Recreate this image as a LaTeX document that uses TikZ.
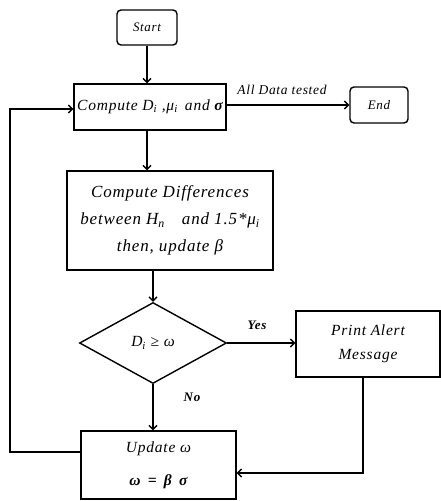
\documentclass[tikz,border=0pt]{standalone}
\usepackage{fontspec}
\setmainfont{Liberation Serif}[LetterSpace=5]
\usetikzlibrary{shapes.geometric,arrows.meta,calc}
\begin{document}
\begin{tikzpicture}[x=1pt,y=-1pt,
  every node/.style={font=\itshape},
  box/.style={draw,line width=1.4pt,minimum width=#1,inner sep=0pt,align=center},
  term/.style={draw,line width=1.4pt,rounded corners=4pt,inner sep=0pt,font=\fontsize{13}{15}\selectfont\itshape},
  lab/.style={font=\fontsize{13.5}{15}\selectfont\itshape},
  conn/.style={line width=1.4pt,-{Straight Barb[length=4pt,width=8pt,line width=1.4pt]}},
  line/.style={line width=1.4pt}]
\useasboundingbox (0,0) rectangle (441,501);
\node[term,minimum width=60pt,minimum height=35pt] (start) at (147,27.5) {Start};
\node[box=152pt,minimum height=46pt,font=\fontsize{15.5}{17}\selectfont\itshape] (comp) at (150,107) {Compute D\textsubscript{i} ,μ\textsubscript{i}\, and \textbf{σ}};
\node[term,minimum width=58pt,minimum height=36pt] (end) at (379,105) {End};
\node[box=206pt,minimum height=99pt,font=\fontsize{17}{27}\selectfont\itshape] (diff) at (170,220.5) {Compute Differences\\between H\textsubscript{n}\quad and 1.5*μ\textsubscript{i}\\then, update β};
\node[draw,line width=1.4pt,diamond,aspect=1.8,minimum width=147pt,minimum height=81pt,inner sep=0pt,font=\fontsize{15.5}{17}\selectfont\itshape] (dec) at (153,343) {D\textsubscript{i} ≥ ω};
\node[box=144pt,minimum height=66pt,font=\fontsize{15.5}{24}\selectfont\itshape] (alert) at (368,344) {Print Alert\\Message};
\node[box=155pt,minimum height=68pt,font=\fontsize{15.5}{33}\selectfont\itshape] (upd) at (158.5,465) {Update ω\\\textbf{ω\, =\, β\, σ}};
\node[lab] (alltxt) at (282,90) {All Data tested};
\node[lab,font=\fontsize{13}{15}\selectfont\bfseries\itshape] (yes) at (257,325) {Yes};
\node[lab,font=\fontsize{13}{15}\selectfont\bfseries\itshape] (no) at (192,397) {No};
\coordinate (loopl) at (10,452);
\draw[conn] (start.south) -- (start.south |- comp.north);
\draw[conn] ([xshift=-3pt]comp.south) -- ([xshift=-3pt]comp.south |- diff.north);
\draw[conn] (dec.north |- diff.south) -- (dec.north);
\draw[conn] (dec.east) -- (dec.east -| alert.west);
\draw[conn] (dec.south) -- (dec.south |- upd.north);
\draw[conn] (comp.east |- end.west) -- (end.west);
\draw[conn] ([xshift=-5pt]alert.south) |- ([yshift=-8pt]upd.east);
\draw[conn] (upd.west |- loopl) -- (loopl) |- ([yshift=-2pt]comp.west);
\end{tikzpicture}
\end{document}
